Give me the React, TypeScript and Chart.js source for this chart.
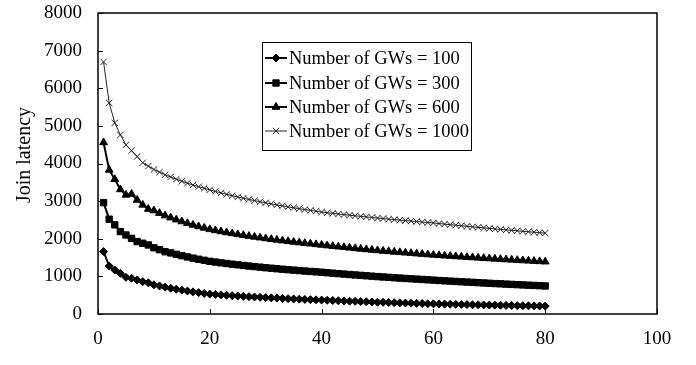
import React, { useEffect, useRef } from "react";
import { Chart, registerables } from "chart.js";

Chart.register(...registerables);

const xValues: number[] = Array.from({ length: 80 }, (_, i) => i + 1);

const gw100: number[] = [
  1660, 1275, 1170, 1080, 975, 950, 905, 860, 830, 775,
  746, 714, 685, 659, 634, 610, 589, 568, 548, 530,
  519, 508, 498, 488, 478, 469, 461, 452, 444, 436,
  429, 422, 414, 408, 401, 394, 388, 382, 376, 370,
  364, 358, 352, 346, 341, 336, 330, 325, 320, 315,
  310, 305, 301, 296, 291, 287, 283, 278, 274, 270,
  267, 263, 260, 257, 253, 250, 247, 244, 241, 238,
  235, 232, 229, 226, 223, 221, 218, 215, 213, 210,
];

const gw300: number[] = [
  2960, 2520, 2370, 2190, 2100, 2010, 1925, 1880, 1835, 1760,
  1710, 1655, 1624, 1585, 1549, 1516, 1484, 1455, 1427, 1400,
  1380, 1360, 1342, 1324, 1307, 1290, 1274, 1259, 1245, 1230,
  1217, 1203, 1190, 1178, 1166, 1154, 1142, 1131, 1121, 1110,
  1097, 1085, 1073, 1061, 1049, 1038, 1026, 1016, 1005, 994,
  984, 974, 964, 955, 945, 936, 927, 918, 909, 900,
  891, 882, 874, 865, 857, 849, 841, 833, 825, 817,
  809, 802, 794, 787, 780, 773, 766, 759, 752, 745,
];

const gw600: number[] = [
  4560, 3830, 3580, 3310, 3165, 3190, 3030, 2900, 2790, 2750,
  2681, 2615, 2561, 2507, 2458, 2411, 2367, 2326, 2287, 2250,
  2221, 2193, 2166, 2141, 2116, 2093, 2070, 2049, 2028, 2007,
  1988, 1969, 1950, 1932, 1915, 1898, 1881, 1866, 1850, 1835,
  1819, 1803, 1788, 1773, 1758, 1744, 1730, 1716, 1702, 1689,
  1676, 1664, 1651, 1639, 1627, 1615, 1604, 1592, 1581, 1570,
  1560, 1549, 1539, 1530, 1520, 1510, 1501, 1492, 1483, 1474,
  1465, 1456, 1447, 1439, 1430, 1422, 1414, 1406, 1398, 1390,
];

const gw1000: number[] = [
  6700, 5610, 5080, 4760, 4495, 4340, 4185, 4020, 3930, 3840,
  3770, 3700, 3642, 3583, 3528, 3477, 3429, 3384, 3341, 3300,
  3258, 3219, 3181, 3145, 3110, 3077, 3045, 3014, 2984, 2955,
  2927, 2900, 2874, 2848, 2824, 2800, 2776, 2754, 2732, 2710,
  2692, 2675, 2658, 2642, 2626, 2610, 2595, 2580, 2565, 2550,
  2536, 2522, 2509, 2495, 2482, 2469, 2457, 2444, 2432, 2420,
  2404, 2389, 2374, 2359, 2345, 2331, 2316, 2303, 2289, 2275,
  2262, 2249, 2236, 2223, 2211, 2198, 2186, 2174, 2162, 2150,
];

const seriesLabels: string[] = [
  "Number of GWs = 100",
  "Number of GWs = 300",
  "Number of GWs = 600",
  "Number of GWs = 1000",
];

const xTicks: number[] = [0, 20, 40, 60, 80, 100];
const yTitle = "Join latency";

const FONT = "'Liberation Serif', 'Times New Roman', serif";

function drawMarker(ctx: CanvasRenderingContext2D, style: string, r: number, x: number, y: number) {
  ctx.beginPath();
  if (style === "rectRot") {
    ctx.moveTo(x, y - r);
    ctx.lineTo(x + r, y);
    ctx.lineTo(x, y + r);
    ctx.lineTo(x - r, y);
    ctx.closePath();
    ctx.fill();
    ctx.stroke();
  } else if (style === "rect") {
    const s = r * Math.SQRT1_2;
    ctx.rect(x - s, y - s, 2 * s, 2 * s);
    ctx.fill();
    ctx.stroke();
  } else if (style === "triangle") {
    ctx.moveTo(x, y - r);
    ctx.lineTo(x + r * 0.866, y + r * 0.5);
    ctx.lineTo(x - r * 0.866, y + r * 0.5);
    ctx.closePath();
    ctx.fill();
    ctx.stroke();
  } else {
    const s = r * Math.SQRT1_2;
    ctx.moveTo(x - s, y - s);
    ctx.lineTo(x + s, y + s);
    ctx.moveTo(x - s, y + s);
    ctx.lineTo(x + s, y - s);
    ctx.stroke();
  }
}

const frameAndLegend = {
  id: "frameAndLegend",
  afterDraw(chart: any) {
    const ctx = chart.ctx as CanvasRenderingContext2D;
    const { left, right, top, bottom } = chart.chartArea;
    const xs = chart.scales.x;
    const ys = chart.scales.y;
    ctx.save();
    ctx.strokeStyle = "#000";
    ctx.lineWidth = 1.5;
    ctx.strokeRect(left, top, right - left, bottom - top);
    ctx.lineWidth = 1;
    ctx.beginPath();
    ys.ticks.forEach((t: any) => {
      const y = Math.round(ys.getPixelForValue(t.value)) + 0.5;
      ctx.moveTo(left, y);
      ctx.lineTo(left + 5, y);
    });
    xs.ticks.forEach((t: any) => {
      const x = Math.round(xs.getPixelForValue(t.value)) + 0.5;
      ctx.moveTo(x, bottom);
      ctx.lineTo(x, bottom - 5);
    });
    ctx.stroke();

    ctx.fillStyle = "#000";
    ctx.font = `20px ${FONT}`;
    ctx.textAlign = "center";
    ctx.textBaseline = "middle";
    ctx.save();
    ctx.translate(25, 155);
    ctx.rotate(-Math.PI / 2);
    ctx.fillText(yTitle, 0, 0);
    ctx.restore();

    const bx = 262, by = 42, bw = 209, bh = 108;
    ctx.fillStyle = "#fff";
    ctx.fillRect(bx, by, bw, bh);
    ctx.strokeStyle = "#000";
    ctx.lineWidth = 1;
    ctx.strokeRect(bx + 0.5, by + 0.5, bw, bh);
    const rowY = [58, 83, 107, 131];
    chart.data.datasets.forEach((ds: any, i: number) => {
      const y = rowY[i];
      ctx.strokeStyle = ds.borderColor;
      ctx.lineWidth = ds.borderWidth;
      ctx.beginPath();
      ctx.moveTo(265, y);
      ctx.lineTo(287, y);
      ctx.stroke();
      ctx.fillStyle = ds.pointBackgroundColor;
      ctx.strokeStyle = ds.pointBorderColor;
      ctx.lineWidth = ds.pointBorderWidth;
      drawMarker(ctx, ds.pointStyle, ds.pointRadius, 276, y);
      ctx.fillStyle = "#000";
      ctx.font = `18.5px ${FONT}`;
      ctx.textAlign = "left";
      ctx.textBaseline = "middle";
      ctx.fillText(ds.label, 289, y + 1);
    });
    ctx.restore();
  },
};

export default function App() {
  const ref = useRef<HTMLCanvasElement | null>(null);
  useEffect(() => {
    if (!ref.current) return;
    const mk = (vals: number[]) => xValues.map((x, i) => ({ x, y: vals[i] }));
    const chart = new Chart(ref.current, {
      type: "line",
      data: {
        datasets: [
          {
            label: seriesLabels[0],
            data: mk(gw100),
            borderColor: "#000",
            borderWidth: 2,
            pointStyle: "rectRot",
            pointRadius: 4,
            pointBackgroundColor: "#000",
            pointBorderColor: "#000",
            pointBorderWidth: 1,
          },
          {
            label: seriesLabels[1],
            data: mk(gw300),
            borderColor: "#000",
            borderWidth: 2,
            pointStyle: "rect",
            pointRadius: 4.5,
            pointBackgroundColor: "#000",
            pointBorderColor: "#000",
            pointBorderWidth: 1,
          },
          {
            label: seriesLabels[2],
            data: mk(gw600),
            borderColor: "#000",
            borderWidth: 2,
            pointStyle: "triangle",
            pointRadius: 4.5,
            pointBackgroundColor: "#000",
            pointBorderColor: "#000",
            pointBorderWidth: 1,
          },
          {
            label: seriesLabels[3],
            data: mk(gw1000),
            borderColor: "#222",
            borderWidth: 1,
            pointStyle: "crossRot",
            pointRadius: 4.5,
            pointBackgroundColor: "#222",
            pointBorderColor: "#222",
            pointBorderWidth: 1,
          },
        ] as any,
      },
      options: {
        responsive: false,
        animation: false,
        devicePixelRatio: 1,
        layout: { padding: { left: 0, top: 13, right: 39, bottom: 0 } },
        plugins: {
          legend: { display: false },
          tooltip: { enabled: false },
        },
        elements: { line: { tension: 0 } },
        scales: {
          x: {
            type: "linear",
            min: 0,
            max: 100,
            afterBuildTicks: (scale: any) => {
              scale.ticks = xTicks.map((v) => ({ value: v }));
            },
            afterFit: (scale: any) => {
              scale.height = 51;
              scale.paddingLeft = 0;
              scale.paddingRight = 0;
              scale.paddingTop = 0;
              scale.paddingBottom = 0;
            },
            grid: { display: false, drawTicks: false },
            border: { display: false },
            ticks: {
              color: "#000",
              padding: 14,
              maxRotation: 0,
              font: { family: FONT, size: 19 },
              callback: (v: any) => String(v),
            },
          },
          y: {
            type: "linear",
            min: 0,
            max: 8000,
            afterFit: (scale: any) => {
              scale.width = 98;
              scale.paddingLeft = 0;
              scale.paddingRight = 0;
              scale.paddingTop = 0;
              scale.paddingBottom = 0;
            },
            grid: { display: false, drawTicks: false },
            border: { display: false },
            ticks: {
              stepSize: 1000,
              color: "#000",
              padding: 16,
              font: { family: FONT, size: 19 },
              callback: (v: any) => String(v),
            },
          },
        },
      },
      plugins: [frameAndLegend],
    });
    return () => chart.destroy();
  }, []);
  return (
    <div style={{ position: "fixed", left: 0, top: 0, width: 696, height: 365, background: "#fff" }}>
      <canvas ref={ref} width={696} height={365} />
    </div>
  );
}
